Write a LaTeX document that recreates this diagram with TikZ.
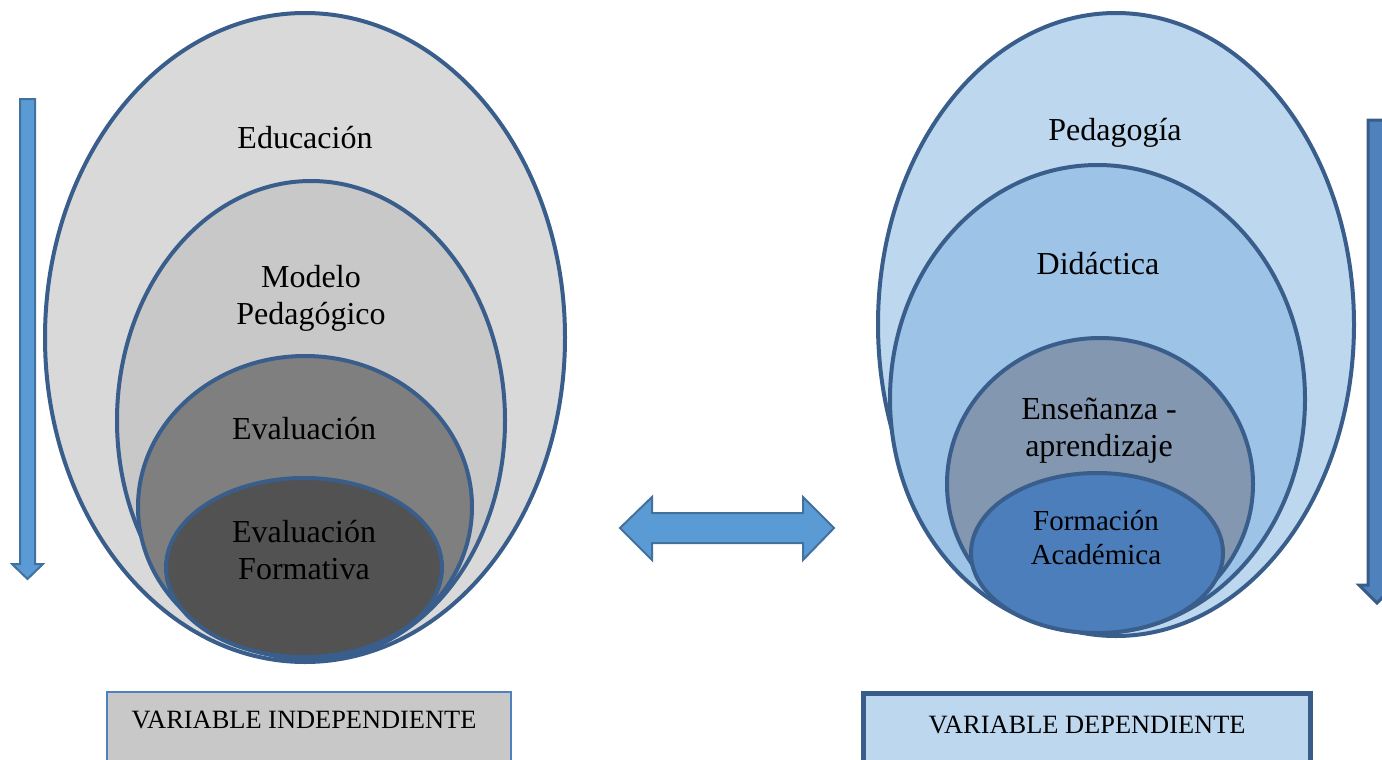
\documentclass[tikz,border=0pt]{standalone}
\usepackage{fontspec}
\setmainfont{Liberation Serif}
\usepackage{tikz}

\definecolor{ringblue}{HTML}{3A5E8C}
\definecolor{grayA}{HTML}{D9D9D9}
\definecolor{grayB}{HTML}{C8C8C8}
\definecolor{grayC}{HTML}{7F7F7F}
\definecolor{grayD}{HTML}{525252}
\definecolor{blueA}{HTML}{BDD7EE}
\definecolor{blueB}{HTML}{9DC3E6}
\definecolor{blueC}{HTML}{8497B0}
\definecolor{blueD}{HTML}{4C7EBB}
\definecolor{arrowfill}{HTML}{5B9BD5}
\definecolor{arrowline}{HTML}{41719C}
\definecolor{darkfill}{HTML}{4F81BD}
\definecolor{darkline}{HTML}{385D8A}

\tikzset{
	ring/.style={draw=ringblue, line width=2pt},
	lbl/.style={font=\fontsize{16}{18.5}\selectfont, align=center, anchor=base, inner sep=0pt},
	smalllbl/.style={font=\fontsize{14.5}{17}\selectfont, align=center, anchor=base, inner sep=0pt},
	varlbl/.style={font=\fontsize{13.2}{15}\selectfont, anchor=base, inner sep=0pt},
	blockarrow/.style={line width=1pt, line join=miter}
}

\begin{document}
\begin{tikzpicture}[x=0.5pt, y=-0.5pt]
				\useasboundingbox (0,0) rectangle (1382,760);
				\clip (0,0) rectangle (1382,760);
				% independent variable, nested
				\foreach \cx/\cy/\rx/\ry/\col in {305/337.5/260/324.5/grayA, 311/420.5/194/239.5/grayB, 305/507/167/151/grayC, 304/567.5/138/89.5/grayD} {
					\draw[ring, fill=\col] (\cx,\cy) ellipse [x radius=\rx, y radius=\ry];
				}
				% dependent variable, nested
				\foreach \cx/\cy/\rx/\ry/\col in {1116/324.5/238/311.5/blueA, 1097.5/399/207.5/234/blueB, 1100/484/153/146/blueC, 1097/553/126/80/blueD} {
					\draw[ring, fill=\col] (\cx,\cy) ellipse [x radius=\rx, y radius=\ry];
				}
				\node[lbl] (educ) at (305,148) {Educación};
				\node[lbl] (modelo) at (311,324) {Modelo\\Pedagógico};
				\node[lbl] (eval) at (304,439) {Evaluación};
				\node[lbl] (evalform) at (304,579) {Evaluación\\Formativa};
				\node[lbl] (pedag) at (1115,140) {Pedagogía};
				\node[lbl] (didac) at (1098,274) {Didáctica};
				\node[lbl] (ensen) at (1099,456) {Enseñanza -\\aprendizaje};
				\node[smalllbl] (formac) at (1096,564) {Formación\\Académica};
				% arrows
				\draw[blockarrow, fill=arrowfill, draw=arrowline] (20,99) -- (35,99) -- (35,564) -- (43,564) -- (27.5,579) -- (12,564) -- (20,564) -- cycle;
				\draw[blockarrow, fill=arrowfill, draw=arrowline] (620,528) -- (652,497) -- (652,513) -- (803,513) -- (803,497) -- (834,528) -- (803,560) -- (803,543) -- (652,543) -- (652,560) -- cycle;
				\draw[blockarrow, line width=1.5pt, fill=darkfill, draw=darkline] (1368,120) -- (1386,120) -- (1386,585) -- (1395,585) -- (1377,603) -- (1359,585) -- (1368,585) -- cycle;
				% variable boxes
				\draw[fill=grayB, draw=darkfill, line width=1pt] (107,692) rectangle (511,780);
				\draw[fill=blueA, draw=darkline, line width=2.5pt] (863,693) rectangle (1310,780);
				\node[varlbl] (indep) at (304,728) {VARIABLE INDEPENDIENTE};
				\node[varlbl] (dep) at (1087,733) {VARIABLE DEPENDIENTE};
			\end{tikzpicture}
\end{document}
